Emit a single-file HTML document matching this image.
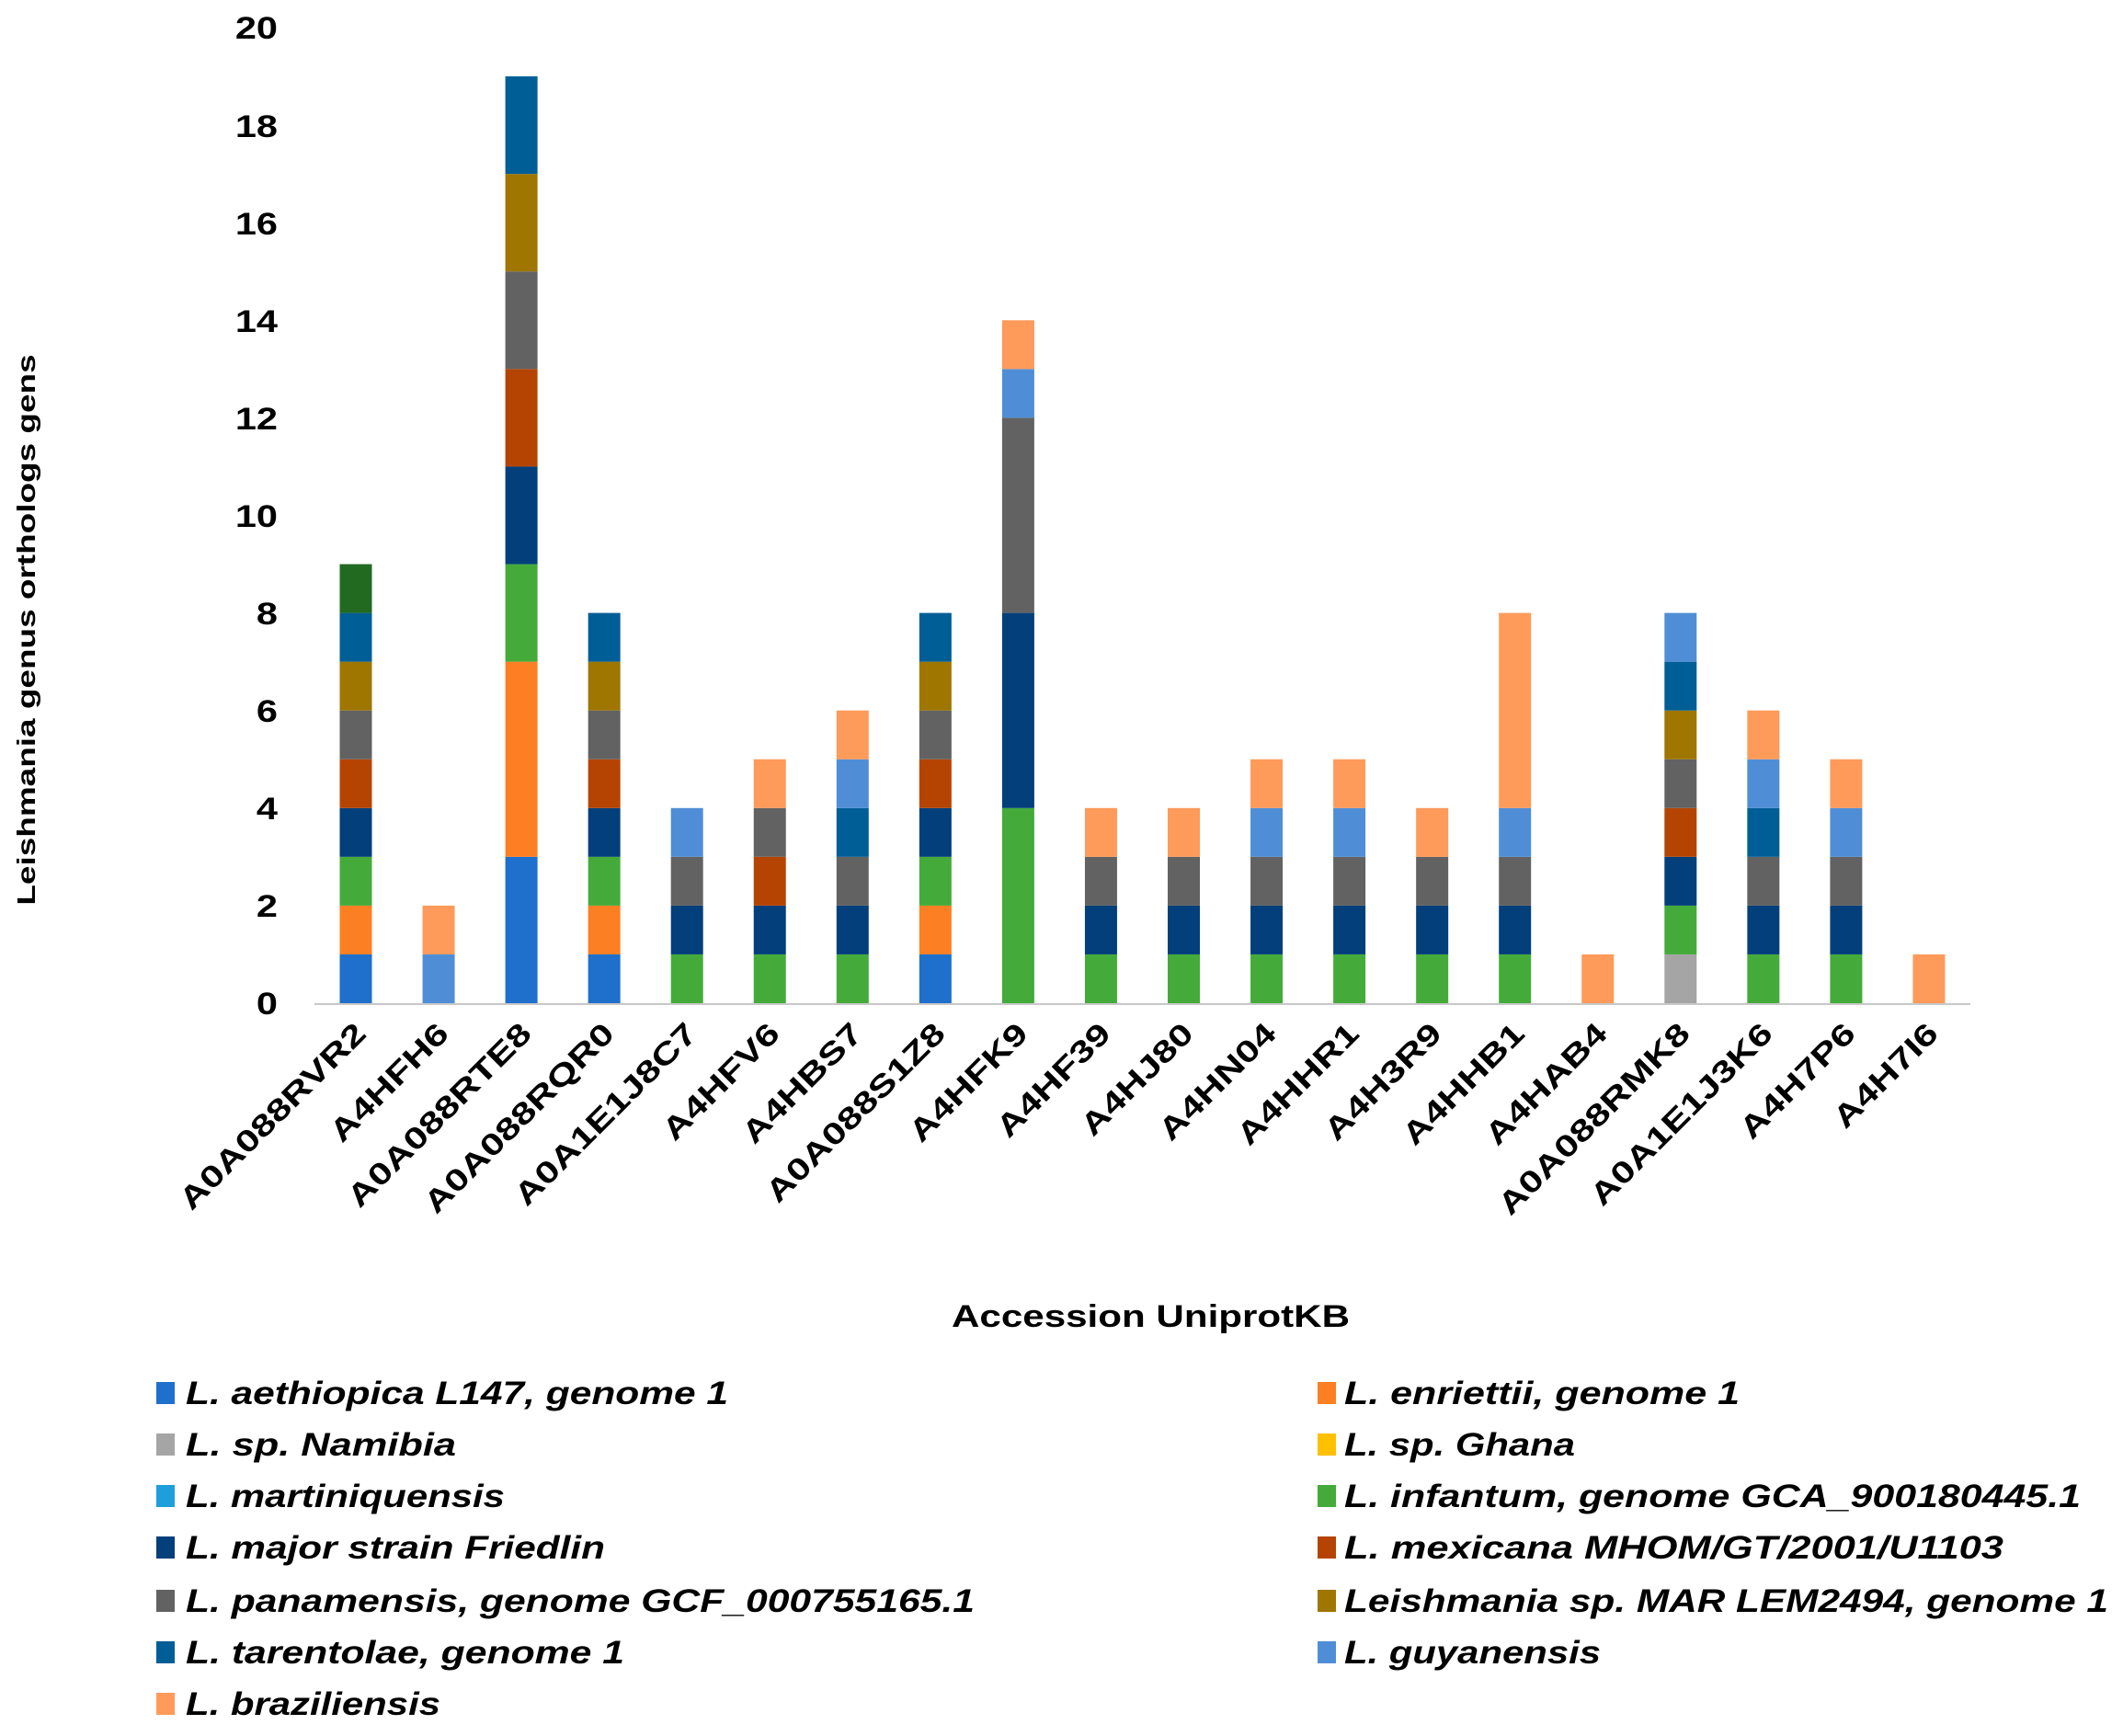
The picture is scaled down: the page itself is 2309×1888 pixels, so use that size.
<!DOCTYPE html>
<html><head><meta charset="utf-8"><style>
html,body{margin:0;padding:0;background:#fff}
svg{display:block}
text{font-family:"Liberation Sans",Arial,sans-serif;font-weight:bold;fill:#000}
</style></head><body>
<svg id="s" width="2309" height="1888" viewBox="0 0 2309 1888" xmlns="http://www.w3.org/2000/svg">
<line x1="342" y1="1092" x2="2143" y2="1092" stroke="#c8c8c8" stroke-width="2"/>
<g font-size="34" text-anchor="end">
<text transform="translate(302,1103) scale(1.22,1)">0</text>
<text transform="translate(302,997) scale(1.22,1)">2</text>
<text transform="translate(302,891) scale(1.22,1)">4</text>
<text transform="translate(302,785) scale(1.22,1)">6</text>
<text transform="translate(302,679) scale(1.22,1)">8</text>
<text transform="translate(302,573) scale(1.22,1)">10</text>
<text transform="translate(302,467) scale(1.22,1)">12</text>
<text transform="translate(302,361) scale(1.22,1)">14</text>
<text transform="translate(302,255) scale(1.22,1)">16</text>
<text transform="translate(302,149) scale(1.22,1)">18</text>
<text transform="translate(302,42) scale(1.22,1)">20</text>
</g>
<text transform="translate(38,685) rotate(-90) scale(1.32,1)" font-size="28" text-anchor="middle">Leishmania genus orthologs gens</text>
<g id="bars"></g>
<g font-size="33" text-anchor="end">
<text transform="translate(400,1126) rotate(-45) scale(1.3,1)">A0A088RVR2</text>
<text transform="translate(490,1126) rotate(-45) scale(1.3,1)">A4HFH6</text>
<text transform="translate(580,1126) rotate(-45) scale(1.3,1)">A0A088RTE8</text>
<text transform="translate(670,1126) rotate(-45) scale(1.3,1)">A0A088RQR0</text>
<text transform="translate(760,1126) rotate(-45) scale(1.3,1)">A0A1E1J8C7</text>
<text transform="translate(850,1126) rotate(-45) scale(1.3,1)">A4HFV6</text>
<text transform="translate(940,1126) rotate(-45) scale(1.3,1)">A4HBS7</text>
<text transform="translate(1030,1126) rotate(-45) scale(1.3,1)">A0A088S1Z8</text>
<text transform="translate(1120,1126) rotate(-45) scale(1.3,1)">A4HFK9</text>
<text transform="translate(1210,1126) rotate(-45) scale(1.3,1)">A4HF39</text>
<text transform="translate(1300,1126) rotate(-45) scale(1.3,1)">A4HJ80</text>
<text transform="translate(1390,1126) rotate(-45) scale(1.3,1)">A4HN04</text>
<text transform="translate(1480,1126) rotate(-45) scale(1.3,1)">A4HHR1</text>
<text transform="translate(1570,1126) rotate(-45) scale(1.3,1)">A4H3R9</text>
<text transform="translate(1660,1126) rotate(-45) scale(1.3,1)">A4HHB1</text>
<text transform="translate(1750,1126) rotate(-45) scale(1.3,1)">A4HAB4</text>
<text transform="translate(1840,1126) rotate(-45) scale(1.3,1)">A0A088RMK8</text>
<text transform="translate(1930,1126) rotate(-45) scale(1.3,1)">A0A1E1J3K6</text>
<text transform="translate(2020,1126) rotate(-45) scale(1.3,1)">A4H7P6</text>
<text transform="translate(2110,1126) rotate(-45) scale(1.3,1)">A4H7I6</text>
</g>
<text x="1035" y="1443" font-size="34" textLength="433" lengthAdjust="spacingAndGlyphs">Accession UniprotKB</text>
<g font-size="35" font-style="italic">
<rect x="170" y="1503" width="20" height="24" fill="#1f6fcc"/><text x="202" y="1527" textLength="590" lengthAdjust="spacingAndGlyphs">L. aethiopica L147, genome 1</text>
<rect x="170" y="1559" width="20" height="24" fill="#a5a5a5"/><text x="202" y="1583" textLength="294" lengthAdjust="spacingAndGlyphs">L.  sp. Namibia</text>
<rect x="170" y="1615" width="20" height="24" fill="#1e9fdb"/><text x="202" y="1639" textLength="347" lengthAdjust="spacingAndGlyphs">L. martiniquensis</text>
<rect x="170" y="1671" width="20" height="24" fill="#023f7b"/><text x="202" y="1695" textLength="456" lengthAdjust="spacingAndGlyphs">L. major strain Friedlin</text>
<rect x="170" y="1729" width="20" height="24" fill="#626262"/><text x="202" y="1753" textLength="858" lengthAdjust="spacingAndGlyphs">L. panamensis, genome GCF_000755165.1</text>
<rect x="170" y="1785" width="20" height="24" fill="#005e96"/><text x="202" y="1809" textLength="477" lengthAdjust="spacingAndGlyphs">L. tarentolae, genome 1</text>
<rect x="170" y="1841" width="20" height="24" fill="#fe9a5a"/><text x="202" y="1865" textLength="277" lengthAdjust="spacingAndGlyphs">L. braziliensis</text>
<rect x="1433" y="1503" width="20" height="24" fill="#fd7f23"/><text x="1462" y="1527" textLength="430" lengthAdjust="spacingAndGlyphs">L. enriettii, genome 1</text>
<rect x="1433" y="1559" width="20" height="24" fill="#ffc000"/><text x="1462" y="1583" textLength="251" lengthAdjust="spacingAndGlyphs">L. sp. Ghana</text>
<rect x="1433" y="1615" width="20" height="24" fill="#44ab3a"/><text x="1462" y="1639" textLength="801" lengthAdjust="spacingAndGlyphs">L. infantum, genome GCA_900180445.1</text>
<rect x="1433" y="1671" width="20" height="24" fill="#b54402"/><text x="1462" y="1695" textLength="717" lengthAdjust="spacingAndGlyphs">L. mexicana MHOM/GT/2001/U1103</text>
<rect x="1433" y="1729" width="20" height="24" fill="#9e7600"/><text x="1462" y="1753" textLength="831" lengthAdjust="spacingAndGlyphs">Leishmania sp. MAR LEM2494, genome 1</text>
<rect x="1433" y="1785" width="20" height="24" fill="#4f8ed6"/><text x="1462" y="1809" textLength="279" lengthAdjust="spacingAndGlyphs">L. guyanensis</text>
</g>
</svg>
<script>
var C={ae:"#1f6fcc",en:"#fd7f23",na:"#a5a5a5",in:"#44ab3a",ma:"#023f7b",me:"#b54402",pa:"#626262",mr:"#9e7600",ta:"#005e96",gu:"#4f8ed6",br:"#fe9a5a",dg:"#226a20"};
var D=[
[["ae",1],["en",1],["in",1],["ma",1],["me",1],["pa",1],["mr",1],["ta",1],["dg",1]],
[["gu",1],["br",1]],
[["ae",3],["en",4],["in",2],["ma",2],["me",2],["pa",2],["mr",2],["ta",2]],
[["ae",1],["en",1],["in",1],["ma",1],["me",1],["pa",1],["mr",1],["ta",1]],
[["in",1],["ma",1],["pa",1],["gu",1]],
[["in",1],["ma",1],["me",1],["pa",1],["br",1]],
[["in",1],["ma",1],["pa",1],["ta",1],["gu",1],["br",1]],
[["ae",1],["en",1],["in",1],["ma",1],["me",1],["pa",1],["mr",1],["ta",1]],
[["in",4],["ma",4],["pa",4],["gu",1],["br",1]],
[["in",1],["ma",1],["pa",1],["br",1]],
[["in",1],["ma",1],["pa",1],["br",1]],
[["in",1],["ma",1],["pa",1],["gu",1],["br",1]],
[["in",1],["ma",1],["pa",1],["gu",1],["br",1]],
[["in",1],["ma",1],["pa",1],["br",1]],
[["in",1],["ma",1],["pa",1],["gu",1],["br",4]],
[["br",1]],
[["na",1],["in",1],["ma",1],["me",1],["pa",1],["mr",1],["ta",1],["gu",1]],
[["in",1],["ma",1],["pa",1],["ta",1],["gu",1],["br",1]],
[["in",1],["ma",1],["pa",1],["gu",1],["br",1]],
[["br",1]]];
var g=document.getElementById("bars"),ns="http://www.w3.org/2000/svg",u=53.05,y0=1091;
D.forEach(function(b,i){var cx=387+i*90.05,v=0;b.forEach(function(s){var r=document.createElementNS(ns,"rect");
r.setAttribute("x",cx-17.5);r.setAttribute("width",35);r.setAttribute("y",y0-(v+s[1])*u);r.setAttribute("height",s[1]*u);r.setAttribute("fill",C[s[0]]);g.appendChild(r);v+=s[1];});});
</script>
</body></html>
